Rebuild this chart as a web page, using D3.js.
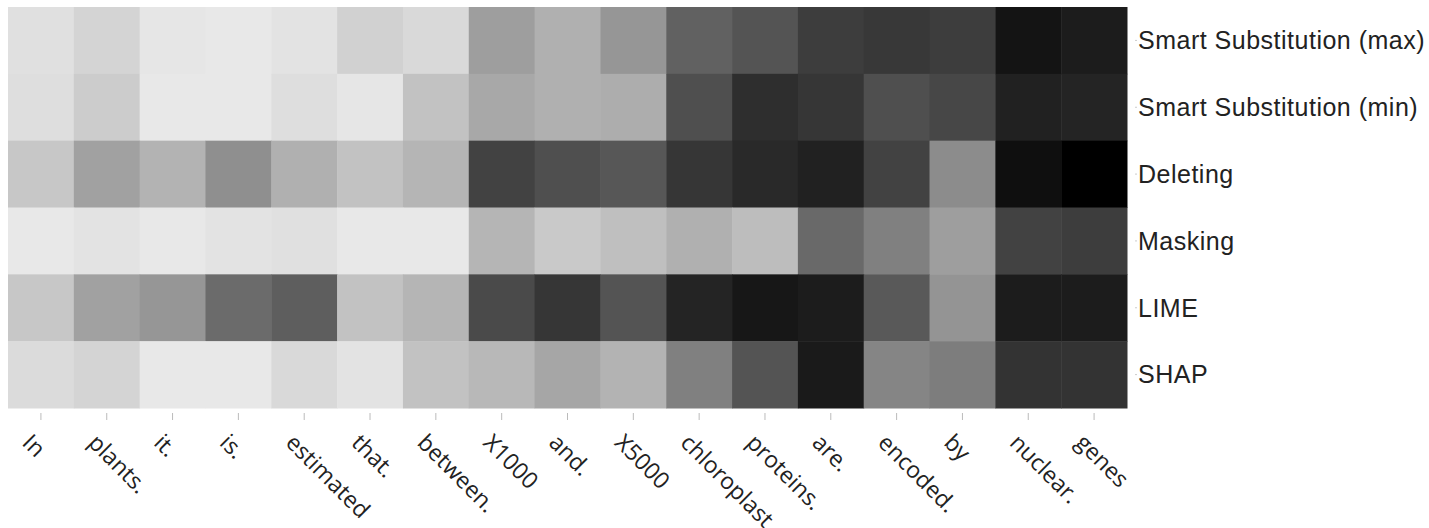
<!DOCTYPE html>
<html>
<head>
<meta charset="utf-8">
<script src="https://cdn.jsdelivr.net/npm/d3@7.9.0/dist/d3.min.js"></script>
<style>
  body { margin: 0; background: #fff; }
  svg { display: block; }
  .xlab { font-family: 'Open Sans', sans-serif; font-size: 23px; fill: #222; }
  .ylab { font-family: 'Liberation Sans', Arial, sans-serif; font-size: 25px; letter-spacing: 0.5px; fill: #222; }
</style>
</head>
<body>
<svg id="chart" width="1429" height="528"></svg>
<script>
// tokens along the x axis
const tokens = ['In', 'plants.', 'it.', 'is.', 'estimated', 'that.', 'between.', 'X1000', 'and.',
    'X5000', 'chloroplast', 'proteins.', 'are.', 'encoded.', 'by', 'nuclear.', 'genes'];

// explanation methods, top to bottom
const methods = ['Smart Substitution (max)', 'Smart Substitution (min)', 'Deleting', 'Masking', 'LIME', 'SHAP'];

// importance per token (0 = white, 1 = black)
const smartMax = [0.12, 0.17, 0.10, 0.09, 0.11, 0.18, 0.15, 0.38, 0.31, 0.41, 0.62, 0.67, 0.76, 0.78, 0.76, 0.92, 0.89];
const smartMin = [0.13, 0.20, 0.09, 0.09, 0.13, 0.10, 0.24, 0.34, 0.31, 0.32, 0.69, 0.82, 0.79, 0.69, 0.72, 0.87, 0.86];
const deleting = [0.22, 0.37, 0.30, 0.44, 0.31, 0.24, 0.29, 0.74, 0.69, 0.66, 0.79, 0.84, 0.87, 0.74, 0.45, 0.94, 1.00];
const masking  = [0.09, 0.11, 0.09, 0.11, 0.12, 0.09, 0.09, 0.29, 0.21, 0.25, 0.31, 0.26, 0.59, 0.50, 0.38, 0.74, 0.76];
const lime     = [0.22, 0.37, 0.41, 0.58, 0.63, 0.24, 0.29, 0.71, 0.79, 0.67, 0.86, 0.91, 0.89, 0.65, 0.42, 0.89, 0.89];
const shap     = [0.14, 0.17, 0.09, 0.09, 0.15, 0.11, 0.24, 0.28, 0.35, 0.30, 0.50, 0.67, 0.90, 0.48, 0.51, 0.80, 0.80];

const rows = [smartMax, smartMin, deleting, masking, lime, shap];

const cells = [];
rows.forEach((vals, i) => {
    vals.forEach((v, j) => cells.push({ method: methods[i], token: tokens[j], value: v }));
});

const margin = { top: 7, right: 302, bottom: 120, left: 8 };
const width = 1429, height = 528;

const svg = d3.select('#chart');

const x = d3.scaleBand().domain(tokens).range([margin.left, width - margin.right]);
const y = d3.scaleBand().domain(methods).range([margin.top, height - margin.bottom]);
const color = d3.scaleLinear().domain([0, 1]).range(['#ffffff', '#000000']);

// heatmap cells
svg.append('g')
    .selectAll('rect')
    .data(cells)
    .join('rect')
    .attr('x', d => x(d.token))
    .attr('y', d => y(d.method))
    .attr('width', x.bandwidth() + 0.5)
    .attr('height', y.bandwidth() + 0.5)
    .attr('fill', d => color(d.value));

// x ticks + rotated labels
const xAxisY = y.range()[1];
const xg = svg.append('g');
xg.selectAll('line')
    .data(tokens)
    .join('line')
    .attr('x1', d => x(d) + x.bandwidth() / 2)
    .attr('x2', d => x(d) + x.bandwidth() / 2)
    .attr('y1', xAxisY + 5)
    .attr('y2', xAxisY + 12)
    .attr('stroke', '#bbb');

xg.selectAll('text')
    .data(tokens)
    .join('text')
    .attr('class', 'xlab')
    .attr('transform', d => `translate(${x(d) + x.bandwidth() / 2},${xAxisY + 12}) rotate(45)`)
    .attr('dx', 3)
    .attr('dy', 31)
    .text(d => d);

// y labels on the right
const yAxisX = x.range()[1];
const yg = svg.append('g');
yg.selectAll('line')
    .data(methods)
    .join('line')
    .attr('x1', yAxisX + 8)
    .attr('x2', yAxisX + 10)
    .attr('y1', d => y(d) + y.bandwidth() / 2)
    .attr('y2', d => y(d) + y.bandwidth() / 2)
    .attr('stroke', '#ccc');

yg.selectAll('text')
    .data(methods)
    .join('text')
    .attr('class', 'ylab')
    .attr('x', yAxisX + 11)
    .attr('y', d => y(d) + y.bandwidth() / 2)
    .attr('dy', '0.35em')
    .text(d => d);
</script>
</body>
</html>
